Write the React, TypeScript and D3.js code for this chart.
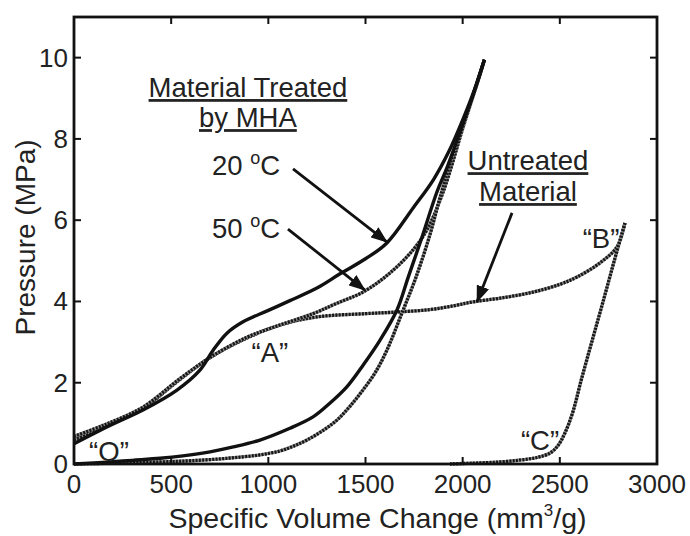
import React from "react";
import * as d3 from "d3";

// Pressure vs. specific volume change, loading and unloading branches
const treated20Loading: [number, number][] = [
  [0, 0.5], [185, 0.95], [355, 1.33], [530, 1.82], [648, 2.31], [716, 2.8],
  [787, 3.22], [870, 3.5], [1000, 3.78], [1111, 4.02], [1250, 4.33], [1369, 4.68],
  [1500, 5.05], [1610, 5.44], [1745, 6.3], [1850, 7.0], [1930, 7.7], [2003, 8.5],
  [2060, 9.2], [2112, 9.95],
];
const treated20Unloading: [number, number][] = [
  [2112, 9.95], [2070, 9.3], [2003, 8.4], [1920, 7.3], [1868, 6.7], [1785, 5.5],
  [1720, 4.6], [1662, 3.79], [1575, 3.05], [1490, 2.45], [1404, 1.9], [1310, 1.47],
  [1230, 1.16], [1111, 0.88], [957, 0.59], [820, 0.42], [700, 0.3], [560, 0.2],
  [443, 0.14], [300, 0.09], [185, 0.05], [0, 0],
];
const treated50Loading: [number, number][] = [
  [0, 0.68], [150, 0.95], [355, 1.4], [545, 2.1], [700, 2.62], [890, 3.12],
  [1060, 3.42], [1230, 3.7], [1350, 3.95], [1487, 4.23], [1626, 4.7], [1745, 5.27],
  [1816, 5.76], [1900, 6.7], [2003, 8.3], [2060, 9.15], [2112, 9.95],
];
const treated50Unloading: [number, number][] = [
  [2112, 9.95], [2060, 9.2], [2003, 8.35], [1930, 7.3], [1880, 6.5], [1832, 5.65],
  [1760, 4.6], [1688, 3.72], [1610, 2.8], [1550, 2.25], [1487, 1.82], [1420, 1.42],
  [1353, 1.08], [1280, 0.82], [1199, 0.59], [1130, 0.44], [1060, 0.32], [950, 0.22],
  [787, 0.14], [600, 0.08], [443, 0.05], [200, 0.02], [0, 0],
];
const untreatedLoading: [number, number][] = [
  [0, 0.6], [185, 0.97], [355, 1.37], [545, 2.08], [700, 2.62], [890, 3.1],
  [1060, 3.42], [1250, 3.62], [1500, 3.7], [1662, 3.74], [1832, 3.8], [1960, 3.9],
  [2053, 3.99], [2192, 4.08], [2362, 4.23], [2500, 4.42], [2588, 4.6], [2707, 4.95],
  [2794, 5.34], [2835, 5.93],
];
const untreatedUnloading: [number, number][] = [
  [2835, 5.93], [2780, 5.0], [2725, 4.04], [2670, 3.1], [2612, 2.1], [2565, 1.25],
  [2525, 0.75], [2490, 0.45], [2450, 0.27], [2383, 0.16], [2300, 0.1], [2192, 0.05],
  [2050, 0.02], [1935, 0.0],
];

const xTicks = [0, 500, 1000, 1500, 2000, 2500, 3000];
const yTicks = [0, 2, 4, 6, 8, 10];

const W = 690;
const H = 536;
const FONT = "'Liberation Sans', Arial, Helvetica, sans-serif";
const FS_TICK = 26;
const FS_NOTE = 27.5;
const FS_TITLE = 28.5;

export default function App() {
  const x = d3.scaleLinear().domain([0, 3000]).range([74, 657]);
  const y = d3.scaleLinear().domain([0, 11]).range([464, 17]);
  const line = d3
    .line<[number, number]>()
    .x((d) => x(d[0]))
    .y((d) => y(d[1]))
    .curve(d3.curveCatmullRom.alpha(0.5));

  const solid = (data: [number, number][], key: string) => (
    <path key={key} d={line(data) || ""} fill="none" stroke="#111" strokeWidth={3.4} strokeLinejoin="round" />
  );
  const dotted = (data: [number, number][], key: string) => (
    <g key={key}>
      <path d={line(data) || ""} fill="none" stroke="#8a8a8a" strokeWidth={3.3} />
      <path d={line(data) || ""} fill="none" stroke="#161616" strokeWidth={3.3} strokeDasharray="2 1.3" />
    </g>
  );

  const arrow = (x1: number, y1: number, x2: number, y2: number, key: string) => (
    <line
      key={key}
      x1={x(x1)}
      y1={y(y1)}
      x2={x(x2)}
      y2={y(y2)}
      stroke="#111"
      strokeWidth={2.8}
      markerEnd="url(#head)"
    />
  );

  const [x0, x1] = x.range();
  const [yb, yt] = y.range();

  return (
    <svg
      width={W}
      height={H}
      style={{ position: "absolute", left: 0, top: 0, background: "#fff" }}
      fontFamily={FONT}
      fontSize={FS_NOTE}
    >
      <defs>
        <marker
          id="head"
          markerUnits="userSpaceOnUse"
          markerWidth={17}
          markerHeight={13}
          viewBox="0 0 17 13"
          refX={16}
          refY={6.5}
          orient="auto"
        >
          <path d="M0,0 L17,6.5 L0,13 Z" fill="#111" />
        </marker>
      </defs>

      {/* curves */}
      {dotted(untreatedLoading, "ul")}
      {dotted(untreatedUnloading, "uu")}
      {dotted(treated50Loading, "t50l")}
      {dotted(treated50Unloading, "t50u")}
      {solid(treated20Loading, "t20l")}
      {solid(treated20Unloading, "t20u")}

      {/* axes box */}
      <rect x={x0} y={yt} width={x1 - x0} height={yb - yt} fill="none" stroke="#111" strokeWidth={2.8} />
      {xTicks.map((t) => (
        <g key={"xt" + t}>
          <line x1={x(t)} x2={x(t)} y1={yb} y2={yb - 7} stroke="#111" strokeWidth={2} />
          <line x1={x(t)} x2={x(t)} y1={yt} y2={yt + 7} stroke="#111" strokeWidth={2} />
          <text x={x(t)} y={yb + 29} textAnchor="middle" fill="#222" fontSize={FS_TICK}>
            {t}
          </text>
        </g>
      ))}
      {yTicks.map((t) => (
        <g key={"yt" + t}>
          <line x1={x0} x2={x0 + 7} y1={y(t)} y2={y(t)} stroke="#111" strokeWidth={2} />
          <line x1={x1} x2={x1 - 7} y1={y(t)} y2={y(t)} stroke="#111" strokeWidth={2} />
          <text x={x0 - 6} y={y(t) + 9} textAnchor="end" fill="#222" fontSize={FS_TICK}>
            {t}
          </text>
        </g>
      ))}

      {/* axis titles */}
      <text x={(x0 + x1) / 2 + 12} y={528} textAnchor="middle" fill="#222" fontSize={FS_TITLE}>
        Specific Volume Change (mm
        <tspan fontSize={17} dy={-12}>3</tspan>
        <tspan dy={12}>/g)</tspan>
      </text>
      <text
        transform={`translate(35, ${(yb + yt) / 2 - 3}) rotate(-90)`}
        textAnchor="middle"
        fill="#222"
        fontSize={28}
      >
        Pressure (MPa)
      </text>

      {/* annotations */}
      <text x={x(895)} y={y(9.03)} textAnchor="middle" textDecoration="underline" fill="#222">
        Material Treated
      </text>
      <text x={x(895)} y={y(8.29)} textAnchor="middle" textDecoration="underline" fill="#222">
        by MHA
      </text>
      <text x={x(710)} y={y(7.11)} fill="#222">
        20 <tspan fontSize={18} dy={-11}>o</tspan>
        <tspan dy={11}>C</tspan>
      </text>
      <text x={x(710)} y={y(5.56)} fill="#222">
        50 <tspan fontSize={18} dy={-11}>o</tspan>
        <tspan dy={11}>C</tspan>
      </text>
      <text x={x(2336)} y={y(7.23)} textAnchor="middle" textDecoration="underline" fill="#222">
        Untreated
      </text>
      <text x={x(2336)} y={y(6.47)} textAnchor="middle" textDecoration="underline" fill="#222">
        Material
      </text>
      {arrow(1127, 7.26, 1611, 5.46, "a20")}
      {arrow(1101, 5.78, 1497, 4.28, "a50")}
      {arrow(2254, 6.18, 2074, 3.99, "aun")}

      <text x={x(2712)} y={y(5.32)} textAnchor="middle" fill="#222">“B”</text>
      <text x={x(1008)} y={y(2.51)} textAnchor="middle" fill="#222">“A”</text>
      <text x={x(180)} y={y(0.08)} textAnchor="middle" fill="#222">“O”</text>
      <text x={x(2398)} y={y(0.34)} textAnchor="middle" fill="#222">“C”</text>
    </svg>
  );
}
